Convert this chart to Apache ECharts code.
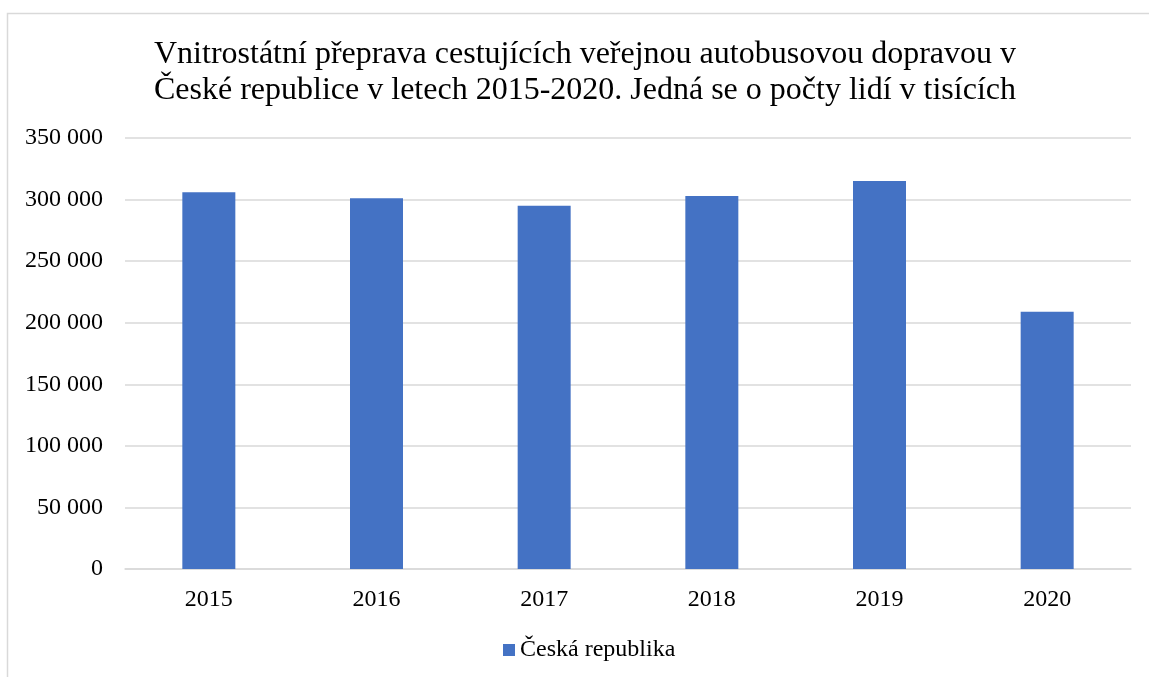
<!DOCTYPE html>
<html>
<head>
<meta charset="utf-8">
<script src="https://cdn.jsdelivr.net/npm/echarts@6/dist/echarts.min.js"></script>
<style>html,body{margin:0;padding:0;background:#fff;}#c{width:1149px;height:677px;}</style>
</head>
<body>
<div id="c"></div>
<script>
const titleText = 'Vnitrostátní přeprava cestujících veřejnou autobusovou dopravou v\nČeské republice v letech 2015-2020. Jedná se o počty lidí v tisících';
const seriesName = 'Česká republika';
const categories = ['2015', '2016', '2017', '2018', '2019', '2020'];
const values = [306000, 301000, 295000, 303000, 315000, 209000];
const yMin = 0, yMax = 350000, yStep = 50000;

const chart = echarts.init(document.getElementById('c'), null, {renderer: 'canvas'});
const font = '"Liberation Serif", "Times New Roman", serif';
chart.setOption({
  animation: false,
  backgroundColor: '#ffffff',
  graphic: [{
    type: 'rect', silent: true, z: -1,
    shape: {x: 7.5, y: 13.5, width: 1200, height: 700},
    style: {fill: 'none', stroke: '#d9d9d9', lineWidth: 1.5}
  }],
  title: {
    text: titleText,
    left: 580, top: 32, textAlign: 'center',
    textStyle: {fontFamily: font, fontSize: 32, fontWeight: 'normal', color: '#000', lineHeight: 36}
  },
  legend: {
    data: [seriesName],
    left: 503, top: 638, padding: 0,
    itemWidth: 12, itemHeight: 12, itemGap: 4,
    icon: 'rect',
    textStyle: {fontFamily: font, fontSize: 24, color: '#000', padding: [0,0,0,0]}
  },
  grid: {left: 125, right: 18, top: 138, bottom: 108, containLabel: false},
  xAxis: {
    type: 'category', data: categories,
    axisLine: {lineStyle: {color: '#d9d9d9', width: 1.5}},
    axisTick: {show: false},
    axisLabel: {fontFamily: font, fontSize: 24, color: '#000', margin: 19}
  },
  yAxis: {
    type: 'value', min: yMin, max: yMax, interval: yStep,
    axisLine: {show: false}, axisTick: {show: false},
    splitLine: {lineStyle: {color: '#d9d9d9', width: 1.5}},
    axisLabel: {
      fontFamily: font, fontSize: 24, color: '#000', margin: 22,
      formatter: v => String(v).replace(/\B(?=(\d{3})+(?!\d))/g, ' ')
    }
  },
  series: [{
    name: seriesName, type: 'bar', data: values,
    barWidth: 53,
    itemStyle: {color: '#4472C4'}
  }]
});
</script>
</body>
</html>
